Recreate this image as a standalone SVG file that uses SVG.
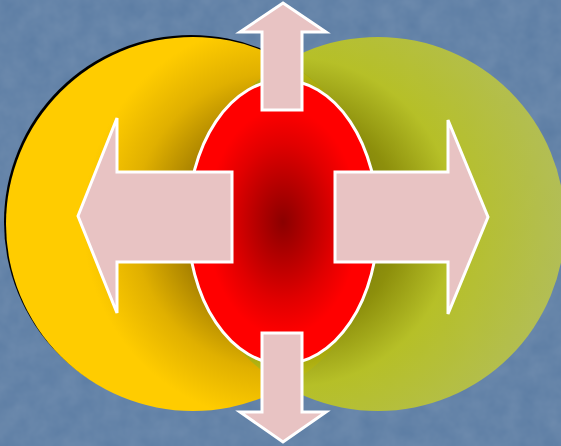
<svg xmlns="http://www.w3.org/2000/svg" width="561" height="446" viewBox="0 0 561 446">
<defs>
<radialGradient id="gy" gradientUnits="userSpaceOnUse" cx="283" cy="222" r="200">
<stop offset="0" stop-color="#5a4000"/>
<stop offset="0.45" stop-color="#9a7600"/>
<stop offset="0.75" stop-color="#e0b000"/>
<stop offset="1" stop-color="#ffcc00"/>
</radialGradient>
<radialGradient id="gg" gradientUnits="userSpaceOnUse" cx="290" cy="222" r="275">
<stop offset="0" stop-color="#5a5a00"/>
<stop offset="0.4" stop-color="#909000"/>
<stop offset="0.6" stop-color="#bcc41e"/>
<stop offset="1" stop-color="#b8c250"/>
</radialGradient>
<radialGradient id="gr" cx="0.5" cy="0.5" r="0.5">
<stop offset="0" stop-color="#8b0000"/>
<stop offset="0.55" stop-color="#e00000"/>
<stop offset="0.8" stop-color="#ff0000"/>
<stop offset="1" stop-color="#ff0000"/>
</radialGradient>
<filter id="tex" x="0" y="0" width="100%" height="100%">
<feTurbulence type="fractalNoise" baseFrequency="0.05" numOctaves="3" seed="4"/>
<feColorMatrix type="matrix" values="0 0 0 0 1  0 0 0 0 1  0 0 0 0 1  0 0 0 0.12 0"/>
</filter>
</defs>
<style>
.arrow{fill:#e8c3c3;stroke:#ffffff;stroke-width:3;stroke-linejoin:miter}
</style>
<rect width="561" height="446" fill="#5b7ca3"/>
<rect width="561" height="446" filter="url(#tex)"/>
<g id="yellow">
<circle cx="191" cy="222" r="187" fill="#000"/>
<circle cx="193" cy="224" r="187" fill="url(#gy)"/>
</g>
<g id="green">
<circle cx="378" cy="224" r="187" fill="url(#gg)" opacity="0.93"/>
</g>
<g id="center">
<ellipse cx="283" cy="222" rx="95" ry="142" fill="url(#gr)" stroke="#ffffff" stroke-width="3"/>
</g>
<g id="connectors">
<polygon id="up" class="arrow" points="283,3 326,32 302,32 302,110 262,110 262,32 240,32"/>
<polygon id="down" class="arrow" points="262,333 302,333 302,412 326,412 283,442 240,412 262,412"/>
<polygon id="left" class="arrow" points="78,216 117,118 117,172 232,172 232,262 117,262 117,313"/>
<polygon id="right" class="arrow" points="335,172 448,172 448,120 488,217 448,314 448,262 335,262"/>
</g>
</svg>
